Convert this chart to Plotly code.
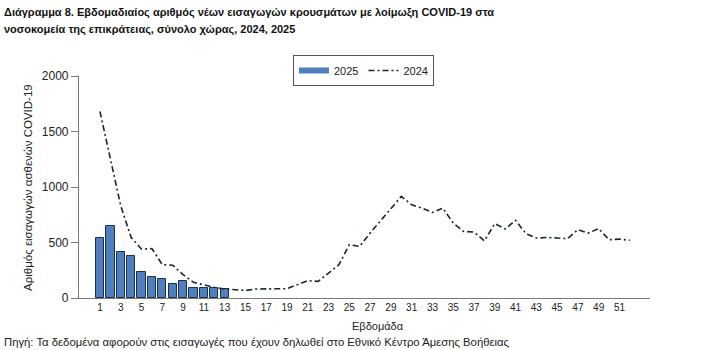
import plotly.graph_objects as go

# Weekly new hospital admissions of COVID-19 cases, whole country
weeks_2025 = list(range(1, 14))
admissions_2025 = [540, 650, 417, 381, 234, 186, 171, 129, 155, 90, 90, 92, 81]

weeks_2024 = list(range(1, 53))
admissions_2024 = [1680, 1265, 830, 545, 440, 445, 300, 295, 210, 141,
                   117, 96, 81, 75, 68, 81, 84, 82, 84, 120,
                   156, 150, 225, 300, 480, 465, 585, 695, 805, 915,
                   840, 810, 771, 810, 675, 600, 594, 515, 670, 622,
                   700, 580, 540, 545, 540, 535, 615, 585, 625, 525,
                   530, 520]

x_ticks = list(range(1, 52, 2))
y_ticks = [0, 500, 1000, 1500, 2000]

title_lines = ["Διάγραμμα 8. Εβδομαδιαίος αριθμός νέων εισαγωγών κρουσμάτων με λοίμωξη COVID-19 στα",
               "νοσοκομεία της επικράτειας, σύνολο χώρας, 2024, 2025"]
y_title = "Αριθμός εισαγωγών ασθενών COVID-19"
x_title = "Εβδομάδα"
source_text = "Πηγή: Τα δεδομένα αφορούν στις εισαγωγές που έχουν δηλωθεί στο Εθνικό Κέντρο Άμεσης Βοήθειας"

BAR_BLUE = "#4F7FBD"
LINE_DARK = "#1c2433"
AXIS_GREY = "#7a7a7a"
FONT = "Liberation Sans, Arial, sans-serif"

W, H = 709, 350
L, R, T, B = 79, 59, 76, 52
pw, ph = W - L - R, H - T - B


def px_x(p):
    return (p - L) / pw


def px_y(p):
    return (H - B - p) / ph


fig = go.Figure()

fig.add_trace(go.Bar(
    x=weeks_2025, y=admissions_2025, width=0.8,
    marker=dict(color=BAR_BLUE, line=dict(color="#1d2f4a", width=1)),
    showlegend=False, name="2025",
))

# legend swatch for the bars, drawn as a thick line
fig.add_trace(go.Scatter(
    x=[None], y=[None], mode="lines", name="2025",
    line=dict(color=BAR_BLUE, width=6),
))

fig.add_trace(go.Scatter(
    x=weeks_2024, y=admissions_2024, mode="lines", name="2024",
    line=dict(color=LINE_DARK, width=1.6, dash="6px,3px,2px,3px"),
))

fig.update_layout(
    width=W, height=H,
    margin=dict(l=L, r=R, t=T, b=B),
    plot_bgcolor="white", paper_bgcolor="white",
    font=dict(family=FONT, color="#222"),
    bargap=0,
    legend=dict(
        orientation="h", x=px_x(293), y=px_y(55), xanchor="left", yanchor="top",
        bordercolor="#555", borderwidth=1, bgcolor="white",
        font=dict(size=11, color="#222"), itemwidth=30,
    ),
    xaxis=dict(
        range=[-1.02, 53.94], tickmode="array", tickvals=x_ticks,
        ticks="", showline=True, linecolor=AXIS_GREY, linewidth=1.2,
        showgrid=False, zeroline=False, tickfont=dict(size=10, color="#222"),
    ),
    yaxis=dict(
        range=[0, 2000], tickmode="array", tickvals=y_ticks,
        ticks="outside", ticklen=7, tickcolor=AXIS_GREY, showline=True,
        linecolor=AXIS_GREY, linewidth=1.2, showgrid=False, zeroline=False,
        tickfont=dict(size=12, color="#222"),
    ),
)

annotations = []
for text, ypx in zip(title_lines, [12, 30]):
    annotations.append(dict(
        text=text, x=px_x(2), y=px_y(ypx), xref="paper", yref="paper",
        xanchor="left", yanchor="middle", align="left", showarrow=False,
        font=dict(size=11, color="#111", weight="bold")))

annotations += [
    dict(text=y_title, x=px_x(28), y=px_y(188), xref="paper", yref="paper",
         xanchor="center", yanchor="middle", textangle=-90, showarrow=False,
         font=dict(size=11.5, color="#222")),
    dict(text=x_title, x=px_x(378), y=px_y(326), xref="paper", yref="paper",
         xanchor="center", yanchor="middle", showarrow=False,
         font=dict(size=11, color="#222")),
    dict(text=source_text, x=px_x(2), y=px_y(342), xref="paper", yref="paper",
         xanchor="left", yanchor="middle", showarrow=False,
         font=dict(size=11.3, color="#222")),
]
fig.update_layout(annotations=annotations)

fig.write_html("out.html")
